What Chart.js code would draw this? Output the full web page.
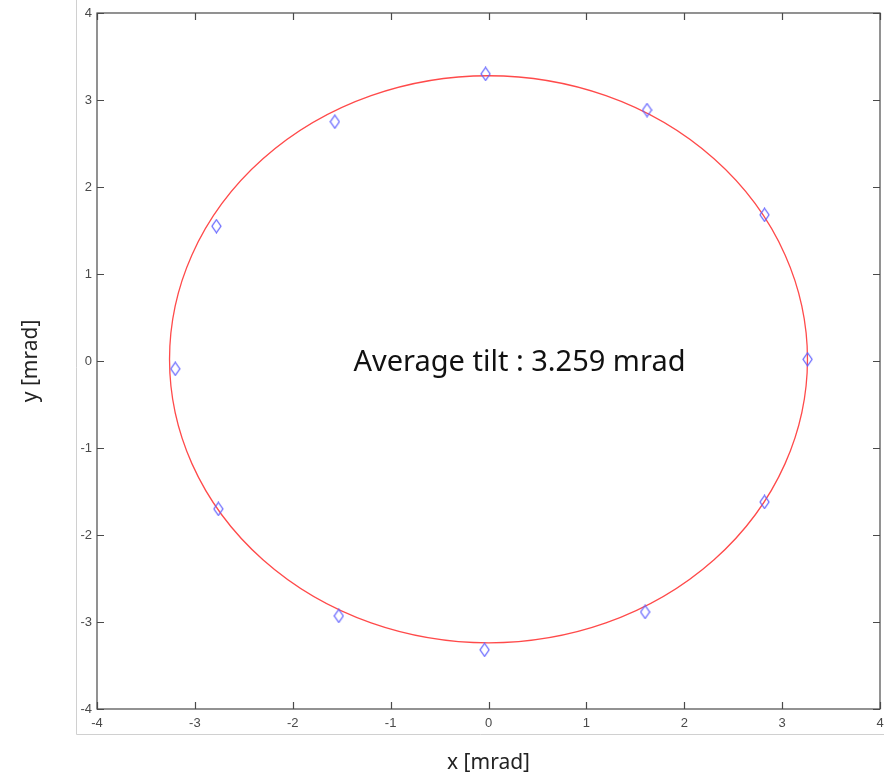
<!DOCTYPE html>
<html lang="en">
<head>
    <meta charset="UTF-8">
    <title>Average tilt</title>
    <script src="https://cdn.jsdelivr.net/npm/chart.js"></script>
    <style>
        body {
            margin: 0;
            background: #fff;
        }
    </style>
</head>
<body>
    <canvas id="tiltChart" width="884" height="778"></canvas>

    <script>
        // Measured tilt points [mrad]
        const xValues = [-0.03, 1.62, 2.82, 3.26, 2.82, 1.60, -0.04, -1.53, -2.76, -3.20, -2.78, -1.57];
        const yValues = [3.30, 2.885, 1.68, 0.02, -1.62, -2.885, -3.32, -2.93, -1.70, -0.09, 1.55, 2.75];

        // Fitted circle
        const circleCenter = [0, 0.02];
        const averageTilt = 3.259;
        const tiltLabel = "Average tilt : 3.259 mrad";

        // Axis ticks
        const tickValues = [-4, -3, -2, -1, 0, 1, 2, 3, 4];

        const points = xValues.map((x, i) => ({ x: x, y: yValues[i] }));

        // Diamond marker (a bit taller than wide, like the original)
        function makeDiamond() {
            const c = document.createElement("canvas");
            c.width = 11;
            c.height = 15;
            const g = c.getContext("2d");
            g.strokeStyle = "#5f5fff";
            g.lineWidth = 1.2;
            g.beginPath();
            g.moveTo(5.5, 1);
            g.lineTo(10, 7.5);
            g.lineTo(5.5, 14);
            g.lineTo(1, 7.5);
            g.closePath();
            g.stroke();
            return c;
        }

        // Circle + label drawn under the markers
        const circlePlugin = {
            id: "circlePlugin",
            beforeDatasetsDraw(chart) {
                const ctx = chart.ctx;
                const xs = chart.scales.x;
                const ys = chart.scales.y;
                const cx = xs.getPixelForValue(circleCenter[0]);
                const cy = ys.getPixelForValue(circleCenter[1]);
                const rx = xs.getPixelForValue(circleCenter[0] + averageTilt) - cx;
                const ry = cy - ys.getPixelForValue(circleCenter[1] + averageTilt);
                ctx.save();
                ctx.strokeStyle = "#ff4a4a";
                ctx.lineWidth = 1.3;
                ctx.beginPath();
                ctx.ellipse(cx, cy, rx, ry, 0, 0, Math.PI * 2);
                ctx.stroke();

                ctx.fillStyle = "#111";
                ctx.font = "29px 'Noto Sans', sans-serif";
                ctx.textAlign = "left";
                ctx.textBaseline = "alphabetic";
                ctx.fillText(tiltLabel, xs.getPixelForValue(-1.38), ys.getPixelForValue(0) + 10);
                ctx.restore();
            }
        };

        // Box, inward ticks and outer light frame
        const framePlugin = {
            id: "framePlugin",
            afterDraw(chart) {
                const ctx = chart.ctx;
                const a = chart.chartArea;
                const xs = chart.scales.x;
                const ys = chart.scales.y;
                ctx.save();
                ctx.strokeStyle = "#d0d0d0";
                ctx.lineWidth = 1;
                ctx.beginPath();
                ctx.moveTo(76.5, 0);
                ctx.lineTo(76.5, 734.5);
                ctx.lineTo(884, 734.5);
                ctx.stroke();

                ctx.strokeStyle = "#4a4a4a";
                ctx.lineWidth = 1.2;
                ctx.strokeRect(a.left, a.top, a.right - a.left, a.bottom - a.top);

                ctx.beginPath();
                tickValues.forEach(v => {
                    const px = Math.round(xs.getPixelForValue(v)) + 0.5;
                    ctx.moveTo(px, a.bottom);
                    ctx.lineTo(px, a.bottom - 7);
                    ctx.moveTo(px, a.top);
                    ctx.lineTo(px, a.top + 7);
                    const py = Math.round(ys.getPixelForValue(v)) + 0.5;
                    ctx.moveTo(a.left, py);
                    ctx.lineTo(a.left + 7, py);
                    ctx.moveTo(a.right, py);
                    ctx.lineTo(a.right - 7, py);
                });
                ctx.stroke();
                ctx.restore();
            }
        };

        const tickFont = { family: "'Liberation Sans', Arial, sans-serif", size: 13 };
        const titleFont = { family: "'Noto Sans', sans-serif", size: 21 };

        new Chart(document.getElementById("tiltChart"), {
            type: "scatter",
            data: {
                datasets: [{
                    label: "tilt",
                    data: points,
                    pointStyle: makeDiamond(),
                    pointRadius: 6,
                    pointHoverRadius: 6
                }]
            },
            options: {
                responsive: false,
                animation: false,
                layout: {
                    autoPadding: false,
                    padding: { left: 0, right: 4, top: 13, bottom: 0 }
                },
                plugins: {
                    legend: { display: false },
                    tooltip: { enabled: false }
                },
                scales: {
                    x: {
                        type: "linear",
                        min: -4,
                        max: 4,
                        afterFit(scale) {
                            scale.height = 69;
                            scale.paddingLeft = 0;
                            scale.paddingRight = 0;
                        },
                        afterBuildTicks(scale) { scale.ticks = tickValues.map(v => ({ value: v })); },
                        grid: { display: false, drawTicks: false },
                        border: { display: false },
                        ticks: { color: "#4a4a4a", font: tickFont, padding: 7, maxRotation: 0 },
                        title: {
                            display: true,
                            text: "x [mrad]",
                            color: "#222",
                            font: titleFont,
                            padding: { top: 0, bottom: 2 }
                        }
                    },
                    y: {
                        type: "linear",
                        min: -4,
                        max: 4,
                        afterFit(scale) {
                            scale.width = 97;
                            scale.paddingTop = 0;
                            scale.paddingBottom = 0;
                        },
                        afterBuildTicks(scale) { scale.ticks = tickValues.map(v => ({ value: v })); },
                        grid: { display: false, drawTicks: false },
                        border: { display: false },
                        ticks: { color: "#4a4a4a", font: tickFont, padding: 5 },
                        title: {
                            display: true,
                            text: "y [mrad]",
                            color: "#222",
                            font: titleFont,
                            padding: { top: 18, bottom: 0 }
                        }
                    }
                }
            },
            plugins: [circlePlugin, framePlugin]
        });
    </script>
</body>
</html>
